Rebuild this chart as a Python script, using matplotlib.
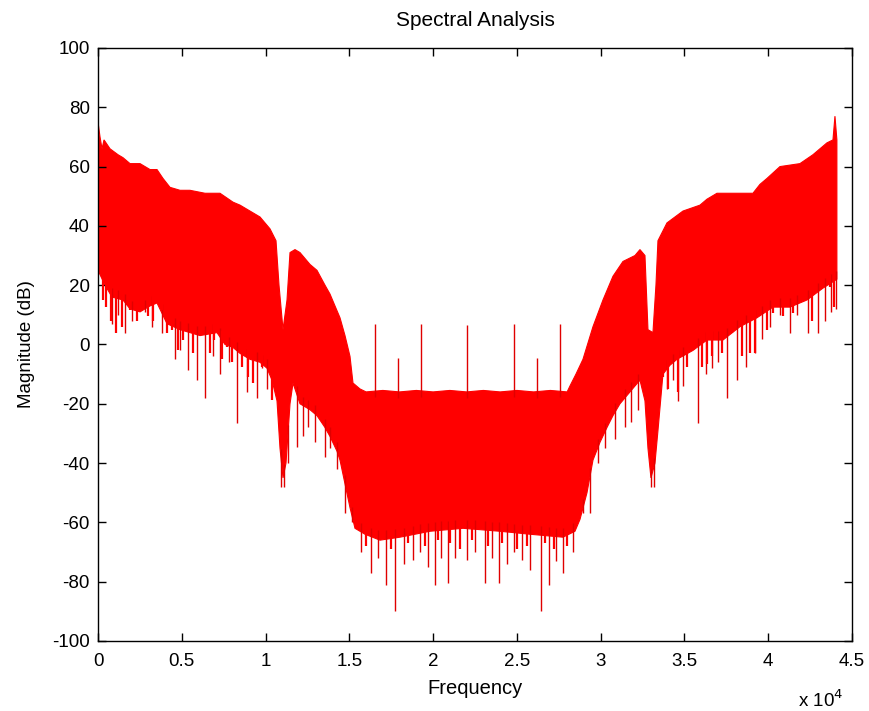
import numpy as np
import matplotlib
matplotlib.use('Agg')
import matplotlib.pyplot as plt

# upper edge of the spectrum band (Hz, dB)
upper_f = [0, 119, 239, 358, 716, 1194, 1492, 1910, 2507, 3103, 3521, 3879, 4297,
           4894, 5490, 6386, 7281, 8057, 8475, 9071, 9668, 10265, 10623, 10802,
           11041, 11280, 11459, 11757, 12055, 12652, 13070, 13547, 13846, 14144,
           14443, 14741, 15039, 15218, 15636, 16000, 17000, 18000, 19000, 20000,
           21000, 22000, 23000, 24000, 25000, 26000, 27000, 28000, 28169, 28527,
           28945, 29542, 30138, 30735, 31332, 32048, 32346, 32645, 32824, 33122,
           33301, 33421, 33958, 34913, 35928, 36345, 36942, 38315, 39090, 39508,
           39926, 40702, 41895, 42671, 43507, 43866, 43985, 44100]
upper_db = [75, 70, 66, 69, 66, 64, 63, 61, 61, 59, 59, 56, 53,
            52, 52, 51, 51, 48, 47, 45, 43, 39, 35, 20,
            5, 15, 31, 32, 31, 27, 25, 20, 17, 13,
            9, 3, -4, -13, -15, -16, -15.5, -16, -15.5, -16,
            -15.5, -16, -15.5, -16, -15.5, -16, -15.5, -16, -14, -10,
            -5, 6, 15, 23, 28, 30, 32, 30, 5, 4,
            20, 35, 41, 45, 47, 49, 51, 51, 51, 54,
            56, 60, 61, 64, 68, 69, 77, 69]

# lower edge of the band (Hz, dB)
lower_f = [0, 418, 836, 1492, 1910, 2507, 3103, 3521, 4118, 4894, 6087, 7102,
           7579, 8057, 8475, 9071, 9668, 10086, 10384, 10683, 10862, 11041,
           11220, 11459, 11638, 12055, 12652, 13070, 13547, 13846, 14264, 14443,
           14741, 15039, 15338, 15934, 16830, 18023, 19814, 21783, 23992, 25782,
           27751, 28467, 28766, 29184, 29542, 29960, 30377, 30735, 31153, 31750,
           32346, 32645, 32824, 33003, 33242, 33421, 33719, 34137, 34555, 35510,
           36345, 37300, 38315, 39329, 40284, 41298, 42313, 43268, 44100]
lower_db = [25, 20, 16, 15, 12, 11, 13, 14, 7, 5, 3, 4,
            0, -1, -3, -5, -6, -8, -12, -19, -35, -45,
            -40, -20, -13, -20, -22, -24, -28, -31, -36, -39,
            -47, -55, -62, -64, -66, -65, -63, -62, -63, -64,
            -65, -63, -59, -50, -39, -33, -28, -24, -20, -16,
            -12, -19, -35, -45, -40, -29, -10, -7, -5, -2,
            1.5, 1.5, 6, 9, 12.6, 12.6, 15, 19, 22]

# deep downward spikes below the band (Hz, dB)
dip_f = [836, 1194, 1611, 2029, 2805, 3223, 3820, 4595, 4894, 5371, 5908, 6386,
         6863, 7281, 7818, 8296, 8892, 9489, 9787, 10086, 10922, 11101, 11339,
         11876, 12234, 12533, 12951, 13547, 13846, 14264, 14741, 15159, 15696,
         16293, 16710, 17188, 17725, 18262, 18799, 19217, 19694, 20112, 20470,
         20888, 21306, 22022, 22499, 23096, 23514, 23932, 24409, 24827, 25304,
         25782, 26438, 26916, 27333, 27751, 28348, 28945, 29363, 29840, 30258,
         30855, 31451, 31809, 32227, 33003, 33182, 33958, 34316, 34615, 34913,
         35808, 36285, 36643, 37002, 37539, 38136, 38673, 39210, 39627, 40105,
         40702, 41298, 41716, 42373, 42970, 43388, 43746, 44045]
dip_db = [7, 10, 4, 8, 11, 6, 4, -5, -2, -8.6, -12, -18,
          -4, -10, -6, -26.5, -16, -18, -8, -15, -48, -48, -40,
          -34.6, -31, -28, -33, -38, -35, -42, -57, -60, -70,
          -77, -72, -81, -90, -74, -72.7, -70, -75, -81, -72,
          -80.5, -72, -72.7, -70, -80.5, -72, -80.5, -74, -70, -72.7,
          -76, -90, -81, -73, -77, -70, -57, -57, -40, -35,
          -32, -28, -26, -22, -48, -48, -15, -12, -19, -14,
          -26.5, -10, -8, -6, -18, -12, -7.6, -3, 2, 6,
          10, 4, 10, 4, 4, 8, 11, 12]

# shorter spikes along the lower edge (Hz, dB)
short_f = [298, 477, 776, 1074, 1432, 1910, 2328, 2686, 2984, 3282, 3820, 4118,
           4416, 4774, 5073, 5670, 6087, 6684, 6923, 7400, 7699, 7997, 8594,
           8952, 9250, 9787, 10384,
           16000, 17500, 18500, 19500, 20300, 21000, 21600, 22300, 23300,
           24100, 25000, 25600, 26700, 27200, 28000,
           33719, 34018, 34615, 35152, 35510, 36047, 36345, 36643, 36942,
           37240, 37837, 38434, 38912, 39210, 39508, 39926, 40284, 40881,
           41477, 41895, 42611, 43208, 43686, 43925]
short_db = [15, 12.6, 8, 3.8, 6, 11.6, 8, 17, 9.5, 8, 11.6, 3.8,
            5, -2, 1.5, -3, 5, -3, 1.5, -5, -1, -6, -7.6,
            -11, -13, -7.6, -18.7,
            -68, -69, -67, -68, -66, -67, -69, -66, -68,
            -67, -69, -68, -67, -69, -68,
            -11, -15, -16, -7.6, -2, -7.6, -6.5, -4, 1.5,
            -3, 4, -4, -3, -3, 10.6, 5, 10.6, 9.5,
            10.6, 17, 8, 22.8, 19.4, 12.6]

# tones above the flat middle band (Hz, dB)
tone_f = [16540, 17900, 19300, 22050, 24800, 26200, 27560]
tone_db = [7, -4.6, 7, 6.5, 7, -4.6, 7]

xticks = [0, 5000, 10000, 15000, 20000, 25000, 30000, 35000, 40000, 45000]
xtick_labels = ['0', '0.5', '1', '1.5', '2', '2.5', '3', '3.5', '4', '4.5']
yticks = [-100, -80, -60, -40, -20, 0, 20, 40, 60, 80, 100]

plt.rcParams['font.family'] = ['Liberation Sans', 'DejaVu Sans']
plt.rcParams['axes.unicode_minus'] = False

fig = plt.figure(figsize=(8.69, 7.11), dpi=100)
ax = fig.add_axes([0.1128, 0.0985, 0.8676, 0.834])

band_x = np.concatenate([upper_f, lower_f[::-1]])
band_y = np.concatenate([upper_db, lower_db[::-1]])
ax.fill(band_x, band_y, color='red', lw=0.8, ec='red')

dip_top = np.interp(dip_f, lower_f, lower_db) + 3
ax.vlines(dip_f, dip_db, dip_top, color='#e00000', lw=1.0)
short_top = np.interp(short_f, lower_f, lower_db) + 3
ax.vlines(short_f, short_db, short_top, color='red', lw=1.6)
tone_base = np.interp(tone_f, upper_f, upper_db) - 2
ax.vlines(tone_f, tone_base, tone_db, color='#e00000', lw=1.0)

ax.set_xlim(0, 45000)
ax.set_ylim(-100, 100)
ax.set_xticks(xticks)
ax.set_xticklabels(xtick_labels)
ax.set_yticks(yticks)
ax.tick_params(direction='in', length=6, width=1, top=True, right=True,
               labelsize=13.5, pad=6)
ax.tick_params(axis='x', pad=9)
for s in ax.spines.values():
    s.set_linewidth(1)

ax.set_title('Spectral Analysis', fontsize=15, pad=16)
ax.set_xlabel('Frequency', fontsize=14.5, labelpad=6)
ax.set_ylabel('Magnitude (dB)', fontsize=13.5, labelpad=12)
fig.text(0.918, 0.0, r'x 10$^4$', fontsize=13.5, ha='left', va='bottom')

fig.savefig('out.png', dpi=100)
